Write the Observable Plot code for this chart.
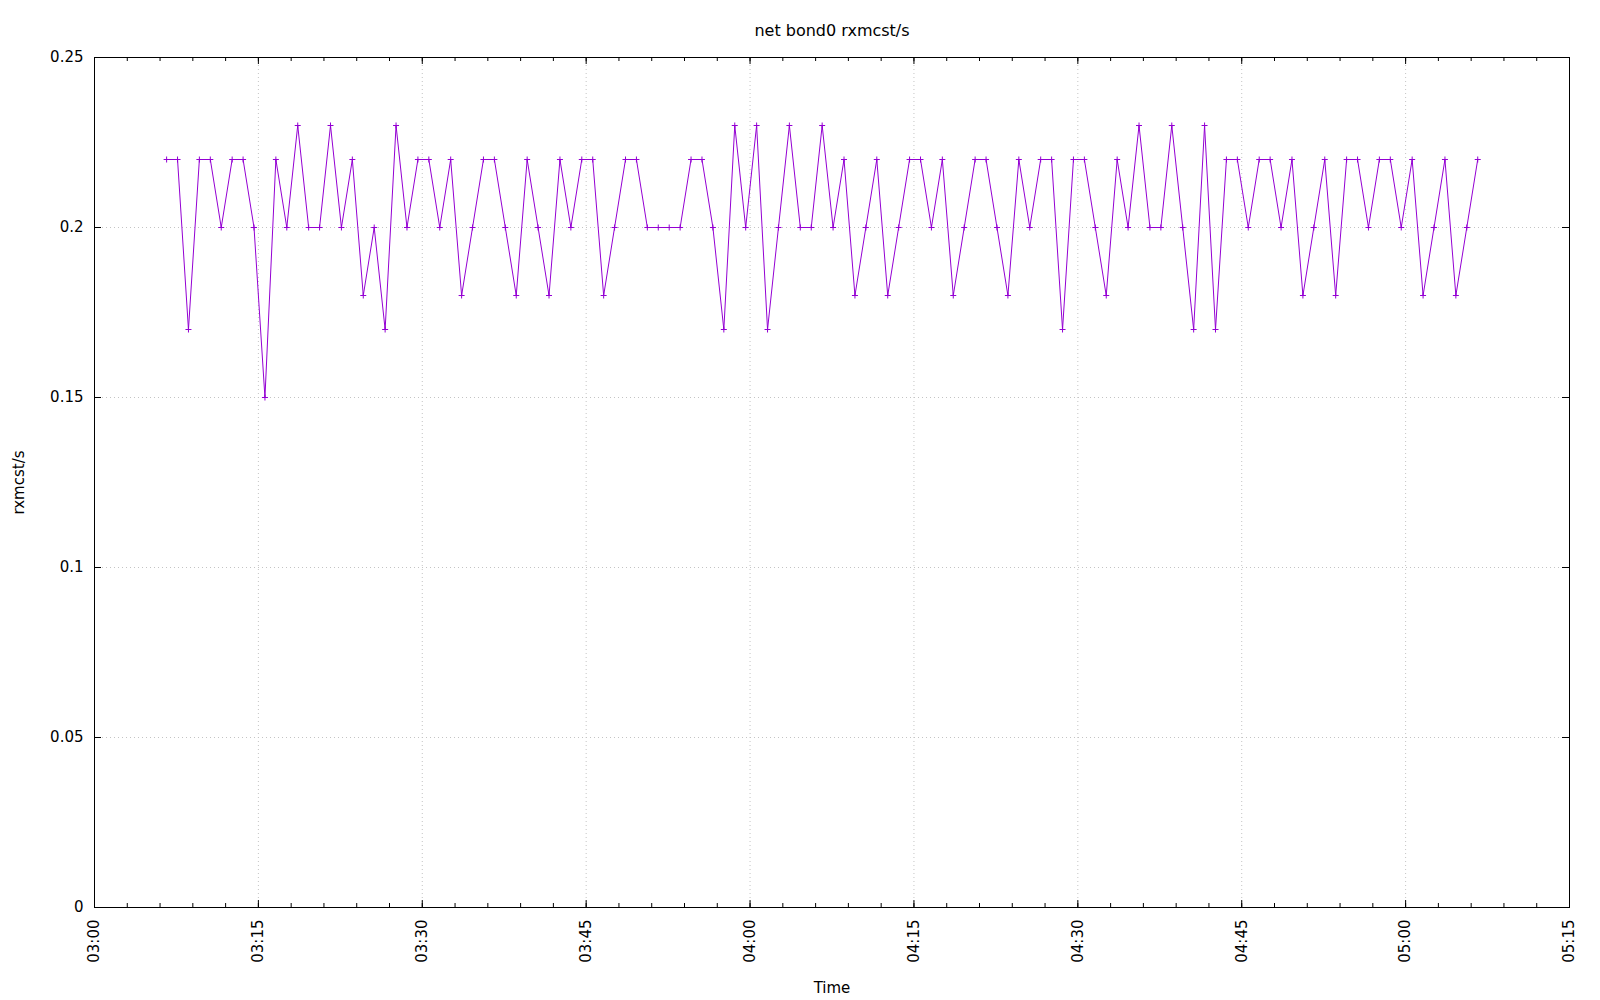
<!DOCTYPE html>
<html>
<head>
<meta charset="utf-8">
<script src="https://cdn.jsdelivr.net/npm/d3@7"></script>
<script src="https://cdn.jsdelivr.net/npm/@observablehq/plot@0.6"></script>
<style>
  html, body { margin: 0; padding: 0; background: #fff; }
  #chart { width: 1600px; height: 1000px; }
</style>
</head>
<body>
<div id="chart"></div>
<script>
const title = "net bond0 rxmcst/s";
const xLabel = "Time";
const yLabel = "rxmcst/s";

const times = [
  "03:06:36","03:07:36","03:08:36","03:09:36","03:10:36","03:11:36","03:12:36","03:13:36","03:14:36","03:15:36",
  "03:16:36","03:17:36","03:18:36","03:19:36","03:20:36","03:21:36","03:22:36","03:23:36","03:24:36","03:25:36",
  "03:26:36","03:27:36","03:28:36","03:29:36","03:30:36","03:31:36","03:32:36","03:33:36","03:34:36","03:35:36",
  "03:36:36","03:37:36","03:38:36","03:39:36","03:40:36","03:41:36","03:42:36","03:43:36","03:44:36","03:45:36",
  "03:46:36","03:47:36","03:48:36","03:49:36","03:50:36","03:51:36","03:52:36","03:53:36","03:54:36","03:55:36",
  "03:56:36","03:57:36","03:58:36","03:59:36","04:00:36","04:01:36","04:02:36","04:03:36","04:04:36","04:05:36",
  "04:06:36","04:07:36","04:08:36","04:09:36","04:10:36","04:11:36","04:12:36","04:13:36","04:14:36","04:15:36",
  "04:16:36","04:17:36","04:18:36","04:19:36","04:20:36","04:21:36","04:22:36","04:23:36","04:24:36","04:25:36",
  "04:26:36","04:27:36","04:28:36","04:29:36","04:30:36","04:31:36","04:32:36","04:33:36","04:34:36","04:35:36",
  "04:36:36","04:37:36","04:38:36","04:39:36","04:40:36","04:41:36","04:42:36","04:43:36","04:44:36","04:45:36",
  "04:46:36","04:47:36","04:48:36","04:49:36","04:50:36","04:51:36","04:52:36","04:53:36","04:54:36","04:55:36",
  "04:56:36","04:57:36","04:58:36","04:59:36","05:00:36","05:01:36","05:02:36","05:03:36","05:04:36","05:05:36",
  "05:06:36"
];

const values = [
  0.22,0.22,0.17,0.22,0.22,0.20,0.22,0.22,0.20,0.15,
  0.22,0.20,0.23,0.20,0.20,0.23,0.20,0.22,0.18,0.20,
  0.17,0.23,0.20,0.22,0.22,0.20,0.22,0.18,0.20,0.22,
  0.22,0.20,0.18,0.22,0.20,0.18,0.22,0.20,0.22,0.22,
  0.18,0.20,0.22,0.22,0.20,0.20,0.20,0.20,0.22,0.22,
  0.20,0.17,0.23,0.20,0.23,0.17,0.20,0.23,0.20,0.20,
  0.23,0.20,0.22,0.18,0.20,0.22,0.18,0.20,0.22,0.22,
  0.20,0.22,0.18,0.20,0.22,0.22,0.20,0.18,0.22,0.20,
  0.22,0.22,0.17,0.22,0.22,0.20,0.18,0.22,0.20,0.23,
  0.20,0.20,0.23,0.20,0.17,0.23,0.17,0.22,0.22,0.20,
  0.22,0.22,0.20,0.22,0.18,0.20,0.22,0.18,0.22,0.22,
  0.20,0.22,0.22,0.20,0.22,0.18,0.20,0.22,0.18,0.20,
  0.22
];

const xTickLabels = ["03:00","03:15","03:30","03:45","04:00","04:15","04:30","04:45","05:00","05:15"];
const yTickValues = [0, 0.05, 0.1, 0.15, 0.2, 0.25];
const yTickLabels = ["0","0.05","0.1","0.15","0.2","0.25"];

const parseTime = (t) => new Date(`2000-01-01T${t.length === 5 ? t + ":00" : t}Z`);
const data = times.map((t, i) => ({time: parseTime(t), value: values[i]}));
const xMajor = xTickLabels.map(parseTime);
const xMinor = d3.utcMinute.every(3).range(xMajor[0], d3.utcMinute.offset(xMajor[xMajor.length - 1], 1));
const xLabelOf = new Map(xMajor.map((d, i) => [+d, xTickLabels[i]]));
const yLabelOf = new Map(yTickValues.map((d, i) => [d, yTickLabels[i]]));

const W = 1600, H = 1000;
const mL = 94, mR = 31, mT = 57, mB = 93;
const plotW = W - mL - mR, plotH = H - mT - mB;
const color = "#9400d3";
const font = "DejaVu Sans";

const plusSymbol = {
  draw(context, size) {
    const r = Math.sqrt(size / Math.PI);
    context.moveTo(-r, 0); context.lineTo(r, 0);
    context.moveTo(0, -r); context.lineTo(0, r);
  }
};

const chart = Plot.plot({
  width: W, height: H,
  marginLeft: mL, marginRight: mR, marginTop: mT, marginBottom: mB,
  style: {fontFamily: font, fontSize: "15px", color: "#000", background: "#fff"},
  x: {type: "utc", domain: [xMajor[0], xMajor[xMajor.length - 1]]},
  y: {domain: [0, 0.25]},
  marks: [
    Plot.gridX(xMajor, {stroke: "#c4c4c4", strokeOpacity: 1, strokeDasharray: "1,3"}),
    Plot.gridY(yTickValues, {stroke: "#c4c4c4", strokeOpacity: 1, strokeDasharray: "1,3"}),
    // tick marks (inward) on all four sides
    Plot.tickX(xMinor, {x: d => d, stroke: "#000", insetTop: plotH - 4}),
    Plot.tickX(xMinor, {x: d => d, stroke: "#000", insetBottom: plotH - 4}),
    Plot.tickX(xMajor, {x: d => d, stroke: "#000", insetTop: plotH - 7}),
    Plot.tickX(xMajor, {x: d => d, stroke: "#000", insetBottom: plotH - 7}),
    Plot.tickY(yTickValues, {y: d => d, stroke: "#000", insetRight: plotW - 7}),
    Plot.tickY(yTickValues, {y: d => d, stroke: "#000", insetLeft: plotW - 7}),
    Plot.axisX(xMajor, {
      tickSize: 0, tickPadding: 12, tickRotate: -90, label: null,
      tickFormat: d => xLabelOf.get(+d), fontSize: 15
    }),
    Plot.axisY(yTickValues, {
      tickSize: 0, tickPadding: 11, label: null,
      tickFormat: d => yLabelOf.get(d), fontSize: 15
    }),
    Plot.line(data, {x: "time", y: "value", stroke: color, strokeWidth: 1}),
    Plot.dot(data, {x: "time", y: "value", symbol: plusSymbol, r: 3, stroke: color, fill: "none", strokeWidth: 1}),
    Plot.frame({stroke: "#000", strokeWidth: 1}),
    Plot.text([title], {text: d => d, frameAnchor: "top", lineAnchor: "middle", dy: -27, fontSize: 16}),
    Plot.text([xLabel], {text: d => d, frameAnchor: "bottom", dy: 85, fontSize: 15}),
    Plot.text([yLabel], {text: d => d, frameAnchor: "left", textAnchor: "middle", dx: -75, rotate: -90, fontSize: 15})
  ]
});

document.getElementById("chart").appendChild(chart);
</script>
</body>
</html>
